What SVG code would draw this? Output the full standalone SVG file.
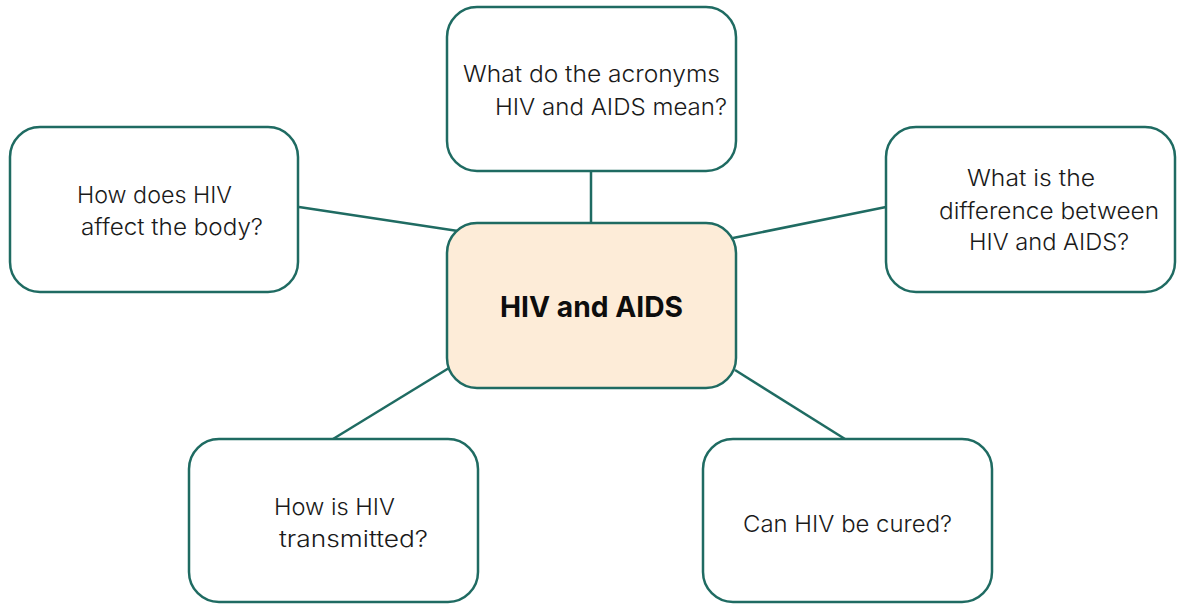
<svg xmlns="http://www.w3.org/2000/svg" width="1178" height="604" viewBox="0 0 1178 604">
<style>
.box{fill:#ffffff;stroke:#1f6b62;stroke-width:2.5}
.core{fill:#fdecd8;stroke:#1f6b62;stroke-width:2.5}
.t{font-family:Inter,"Liberation Sans",sans-serif;font-weight:300;font-size:23px;fill:#1a1a1a}
.tb{font-family:Inter,"Liberation Sans",sans-serif;font-weight:700;font-size:29px;fill:#0d0d0d}
.c{stroke:#1f6b62;stroke-width:2.5;fill:none}
</style>
<rect width="1178" height="604" fill="#ffffff"/>
<g id="connectors">
<line class="c" x1="591" y1="171" x2="591" y2="223"/>
<line class="c" x1="299" y1="207" x2="458" y2="231"/>
<line class="c" x1="733" y1="238" x2="886" y2="207"/>
<line class="c" x1="333" y1="439" x2="449" y2="368"/>
<line class="c" x1="735" y1="370" x2="845" y2="439"/>
</g>
<g id="node-top">
<rect class="box" x="447" y="7" width="289" height="164" rx="30"/>
<text class="t"><tspan x="463" y="82" textLength="257" lengthAdjust="spacingAndGlyphs">What do the acronyms</tspan><tspan x="495" y="115" textLength="232" lengthAdjust="spacingAndGlyphs">HIV and AIDS mean?</tspan></text>
</g>
<g id="node-left">
<rect class="box" x="10" y="127" width="288" height="165" rx="30"/>
<text class="t"><tspan x="77" y="203" textLength="155" lengthAdjust="spacingAndGlyphs">How does HIV</tspan><tspan x="81" y="235" textLength="182" lengthAdjust="spacingAndGlyphs">affect the body?</tspan></text>
</g>
<g id="node-right">
<rect class="box" x="886" y="127" width="289" height="165" rx="30"/>
<text class="t"><tspan x="967" y="186" textLength="128" lengthAdjust="spacingAndGlyphs">What is the</tspan><tspan x="939" y="219" textLength="220" lengthAdjust="spacingAndGlyphs">difference between</tspan><tspan x="969" y="250" textLength="160" lengthAdjust="spacingAndGlyphs">HIV and AIDS?</tspan></text>
</g>
<g id="node-center">
<rect class="core" x="447" y="223" width="289" height="165" rx="30"/>
<text class="tb" x="500" y="317" textLength="183" lengthAdjust="spacingAndGlyphs">HIV and AIDS</text>
</g>
<g id="node-bottom-left">
<rect class="box" x="189" y="439" width="289" height="163" rx="30"/>
<text class="t"><tspan x="274" y="515" textLength="121" lengthAdjust="spacingAndGlyphs">How is HIV</tspan><tspan x="279" y="547" textLength="149" lengthAdjust="spacingAndGlyphs">transmitted?</tspan></text>
</g>
<g id="node-bottom-right">
<rect class="box" x="703" y="439" width="289" height="163" rx="30"/>
<text class="t" x="743" y="532" textLength="209" lengthAdjust="spacingAndGlyphs">Can HIV be cured?</text>
</g>
</svg>
